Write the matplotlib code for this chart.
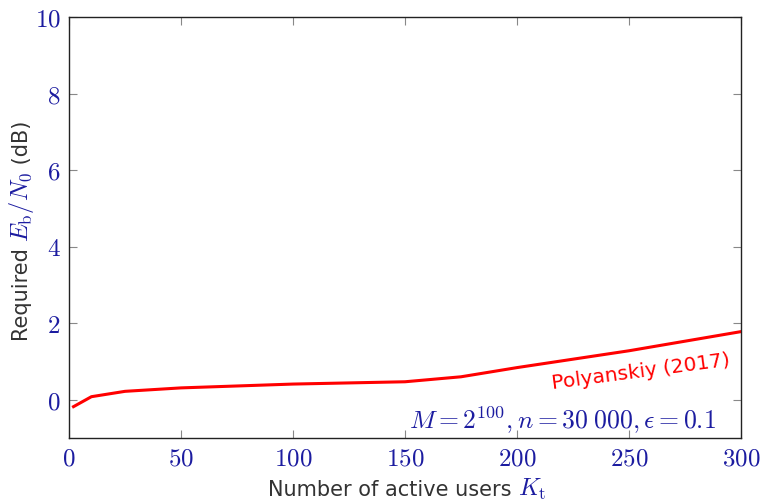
import matplotlib
matplotlib.use("Agg")
import matplotlib.pyplot as plt
from matplotlib.transforms import offset_copy

plt.rcParams["mathtext.fontset"] = "cm"

# Polyanskiy (2017) achievability curve
active_users = [2, 10, 25, 50, 100, 150, 175, 200, 250, 300]
ebn0_db = [-0.18, 0.08, 0.22, 0.31, 0.41, 0.47, 0.60, 0.84, 1.28, 1.78]

x_ticks = [0, 50, 100, 150, 200, 250, 300]
y_ticks = [0, 2, 4, 6, 8, 10]

BLUE = "#1c1ca0"
GRAY = "#333333"
RED = "#ff0000"
SANS = "DejaVu Sans"

fig = plt.figure(figsize=(7.62, 5.01), dpi=100)
ax = fig.add_axes([0.0906, 0.1257, 0.8818, 0.8403])

ax.plot(active_users, ebn0_db, color=RED, lw=2.2, solid_joinstyle="round")

ax.set_xlim(0, 300)
ax.set_ylim(-1, 10)
ax.set_xticks(x_ticks)
ax.set_yticks(y_ticks)
ax.set_xticklabels([f"${v}$" for v in x_ticks])
ax.set_yticklabels([f"${v}$" for v in y_ticks])
ax.tick_params(direction="in", length=6, width=0.8, color="#888888",
               labelcolor=BLUE, labelsize=18, top=True, right=True, pad=6)
for s in ax.spines.values():
    s.set_linewidth(1.0)
    s.set_color("#222222")

ax.text(255.5, 0.72, "Polyanskiy (2017)", color=RED, fontsize=14.5, family=SANS,
        rotation=7.5, ha="center", va="center", rotation_mode="anchor")
ax.text(289, -0.78, r"$M = 2^{100}, n = 30\;000, \epsilon = 0.1$", color=BLUE,
        fontsize=18.5, ha="right", va="baseline")

fig.canvas.draw()
renderer = fig.canvas.get_renderer()


def chain_label(parts, x, y, rotation):
    # lay out differently coloured pieces one after another
    trans = fig.transFigure
    texts = []
    for s, c, size in parts:
        t = fig.text(x, y, s, color=c, fontsize=size, family=SANS,
                     rotation=rotation, ha="left", va="baseline",
                     rotation_mode="anchor", transform=trans)
        texts.append(t)
        bb = t.get_window_extent(renderer)
        if rotation == 90:
            trans = offset_copy(trans, fig=fig, y=bb.height, units="dots")
        else:
            trans = offset_copy(trans, fig=fig, x=bb.width, units="dots")
    return texts


xparts = [("Number of active users ", GRAY, 15), (r"$K_\mathrm{t}$", BLUE, 17.5)]
chain_label(xparts, 268 / 762, 1 - 496 / 501, 0)

yparts = [("Required ", GRAY, 15), (r"$E_\mathrm{b}/N_0$", BLUE, 17.5),
          (" (dB)", GRAY, 15)]
chain_label(yparts, 28 / 762, 1 - 341 / 501, 90)

fig.savefig("out.png", dpi=100)
